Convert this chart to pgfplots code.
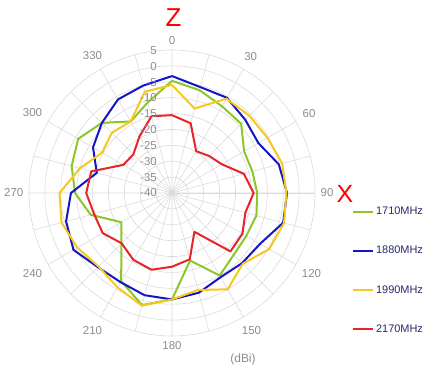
\documentclass[border=0pt]{standalone}
\usepackage{pgfplots}
\usepackage{pgfplotstable}
\pgfplotsset{compat=1.18}
\usepgfplotslibrary{polar}
\usetikzlibrary{calc}
\usepackage{fontspec}
\setmainfont{Liberation Sans}
\definecolor{cgreen}{RGB}{141,198,40}
\definecolor{cblue}{RGB}{20,20,200}
\definecolor{cyellow}{RGB}{246,200,30}
\definecolor{cred}{RGB}{232,36,40}
\definecolor{cgrid}{RGB}{218,218,218}
\definecolor{clabel}{RGB}{140,140,140}
\definecolor{cleg}{RGB}{40,40,110}
\pgfplotstableread{
a v
0 -4.7
15 -6.5
30 -8.5
45 -9.2
60 -13.8
75 -13.8
90 -13.2
105 -12.5
120 -13
135 -12.5
150 -10
165 -18
180 -6.5
195 -3.5
210 -8
225 -17.5
240 -21.6
255 -13.5
270 -9.5
285 -7.3
300 -5.9
315 -8.8
330 -14
345 -10.5
360 -4.7
}\tgreen
\pgfplotstableread{
a v
0 -3.2
15 -5.5
30 -5.4
45 -7.4
60 -8.6
75 -5.2
90 -3.8
105 -3.8
120 -8
135 -8.8
150 -9.4
165 -7.5
180 -6.5
195 -6.7
210 -7.6
225 -7
240 -4.2
255 -5.5
270 -8.2
285 -15.5
300 -11.3
315 -8.8
330 -6
345 -5
360 -3.2
}\tblue
\pgfplotstableread{
a v
0 -6
15 -12.5
30 -5.7
45 -5.6
60 -5.3
75 -4.1
90 -4
105 -3.5
120 -4.7
135 -8.5
150 -5
165 -8.4
180 -6.5
195 -3.3
210 -5.7
225 -7.3
240 -5.6
255 -4
270 -4.6
285 -10
300 -14.6
315 -13.2
330 -14
345 -7
360 -6
}\tyellow
\pgfplotstableread{
a v
0 -15.5
15 -17.3
30 -24.8
45 -23.5
60 -21.9
75 -16.6
90 -14.3
105 -16.1
120 -14.4
135 -14
150 -25.9
165 -18.4
180 -16.8
195 -15
210 -15.7
225 -17.6
240 -14.8
255 -14.6
270 -13
285 -13.7
300 -22.3
315 -22.8
330 -19.5
345 -15
360 -15.5
}\tred
\begin{document}
\begin{tikzpicture}
\begin{polaraxis}[
  scale only axis, width=286bp, height=286bp,
  xmin=0, xmax=360, ymin=0, ymax=45,
  xtick={0,30,...,330},
  xticklabels={90,60,30,0,330,300,270,240,210,180,150,120},
  minor xtick={15,45,...,345},
  ytick={5,10,...,40},
  yticklabels={},
  grid=both,
  major grid style={cgrid, line width=0.6bp},
  minor grid style={cgrid, line width=0.6bp},
  axis line style={cgrid, line width=0.6bp},
  tick style={draw=none},
  xticklabel style={font=\fontsize{11.5}{13}\selectfont, text=clabel, inner sep=5.5bp},
  every axis plot/.append style={line width=2bp, no markers, line join=round},
  legend image code/.code={\draw[#1, line width=2bp] (0bp,0bp) -- (20bp,0bp);},
  legend style={at={(1.129,0.458)}, anchor=north west, draw=none, fill=none,
    inner sep=0pt, row sep=26bp, font=\fontsize{11}{13}\selectfont, text=cleg,
    cells={anchor=west}},
]
\addplot[cgreen] table[x expr={90-\thisrow{a}}, y expr={\thisrow{v}+40}] {\tgreen};
\addlegendentry{1710MHz}
\addplot[cblue] table[x expr={90-\thisrow{a}}, y expr={\thisrow{v}+40}] {\tblue};
\addlegendentry{1880MHz}
\addplot[cyellow] table[x expr={90-\thisrow{a}}, y expr={\thisrow{v}+40}] {\tyellow};
\addlegendentry{1990MHz}
\addplot[cred] table[x expr={90-\thisrow{a}}, y expr={\thisrow{v}+40}] {\tred};
\addlegendentry{2170MHz}
\coordinate (C) at (axis cs:0,0);
\end{polaraxis}
\begin{scope}[every node/.style={inner sep=0pt, anchor=east, text=clabel, font=\fontsize{11.5}{13}\selectfont}]
\node at ($(C)+(-15bp,142.5bp)$) {5};
\node at ($(C)+(-15bp,126.7bp)$) {0};
\node at ($(C)+(-15bp,110.8bp)$) {-5};
\node at ($(C)+(-15bp,95bp)$) {-10};
\node at ($(C)+(-15bp,79.2bp)$) {-15};
\node at ($(C)+(-15bp,63.3bp)$) {-20};
\node at ($(C)+(-15bp,47.5bp)$) {-25};
\node at ($(C)+(-15bp,31.7bp)$) {-30};
\node at ($(C)+(-15bp,15.8bp)$) {-35};
\node at ($(C)+(-15bp,0bp)$) {-40};
\end{scope}
\node[text=red, font=\fontsize{26}{28}\selectfont, inner sep=0pt] at ($(C)+(1.5bp,175.5bp)$) {Z};
\node[text=red, font=\fontsize{25}{27}\selectfont, inner sep=0pt] at ($(C)+(173bp,-1bp)$) {X};
\node[text=clabel, font=\fontsize{12}{14}\selectfont, inner sep=0pt] at ($(C)+(71bp,-166bp)$) {(dBi)};
\pgfresetboundingbox
\path ($(C)+(-172bp,193bp)$) rectangle ($(C)+(252bp,-177bp)$);
\end{tikzpicture}
\end{document}
